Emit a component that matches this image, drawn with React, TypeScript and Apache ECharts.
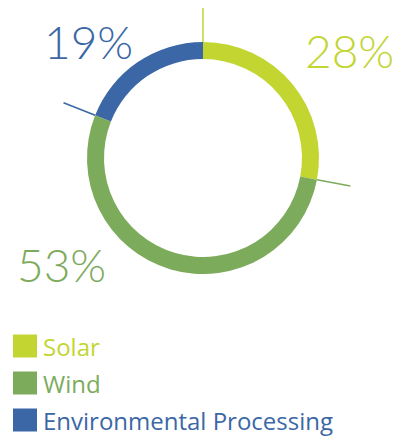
import React, { useEffect, useRef } from "react";
import * as echarts from "echarts";

const categories = ["Solar", "Wind", "Environmental Processing"];
const values = [28, 53, 19];
const colors = ["#c2d531", "#7dab5c", "#3b67a6"];
const labelPos = [
  [305, 50],
  [17, 264],
  [44, 41],
];

const CX = 203;
const CY = 158;
const R_IN = 99;
const R_OUT = 116;
const R_TICK = 150;

export default function App() {
  const ref = useRef<HTMLDivElement>(null);
  useEffect(() => {
    if (!ref.current) return;
    const chart = echarts.init(ref.current, undefined, { renderer: "svg" });
    const total = values.reduce((a, b) => a + b, 0);
    let cum = 0;
    const ticks: any[] = [];
    values.forEach((v, i) => {
      const ang = (cum / total) * Math.PI * 2;
      const s = Math.sin(ang);
      const c = Math.cos(ang);
      ticks.push({
        type: "line",
        shape: {
          x1: CX + R_OUT * s,
          y1: CY - R_OUT * c,
          x2: CX + R_TICK * s,
          y2: CY - R_TICK * c,
        },
        style: { stroke: colors[i], lineWidth: 1.5 },
        z: 10,
      });
      cum += v;
    });
    chart.setOption({
      animation: false,
      color: colors,
      legend: {
        orient: "vertical",
        left: 13,
        top: 334,
        padding: 0,
        height: 103,
        itemWidth: 24,
        itemHeight: 23,
        itemGap: 13,
        icon: "rect",
        textStyle: {
          fontSize: 24,
          lineHeight: 23,
          fontFamily: "Open Sans",
          padding: [0, 0, 0, 1],
        },
        data: categories.map((n, i) => ({
          name: n,
          textStyle: { color: colors[i] },
        })),
        selectedMode: false,
      },
      graphic: ticks,
      series: [
        {
          type: "pie",
          center: [CX, CY],
          radius: [R_IN, R_OUT],
          startAngle: 90,
          clockwise: true,
          silent: true,
          label: {
            show: true,
            position: "outside",
            formatter: "{c}%",
            fontSize: 46,
            fontWeight: 300,
            fontFamily: "Lato",
            overflow: "none",
            width: 200,
          },
          labelLine: { show: false },
          labelLayout: (p: any) => ({
            x: labelPos[p.dataIndex][0],
            y: labelPos[p.dataIndex][1],
            align: "left",
            verticalAlign: "middle",
            hideOverlap: false,
          }),
          data: categories.map((n, i) => ({
            name: n,
            value: values[i],
            label: { color: colors[i] },
          })),
        },
      ],
    });
    return () => chart.dispose();
  }, []);
  return (
    <div
      ref={ref}
      style={{ position: "fixed", left: 0, top: 0, width: 412, height: 437, background: "#fff" }}
    />
  );
}
